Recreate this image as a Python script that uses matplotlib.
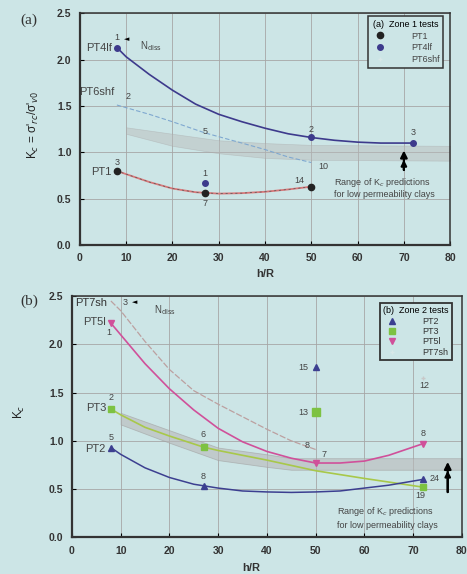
import matplotlib
matplotlib.use("Agg")
import matplotlib.pyplot as plt
from matplotlib.lines import Line2D

plt.rcParams['font.family'] = ['Liberation Sans', 'DejaVu Sans']

BG = '#cce5e6'

# ---------------- panel (a): zone 1 tests ----------------
pt4lf_h = [8, 50, 72]
pt4lf_k = [2.13, 1.16, 1.10]
pt4lf_curve_h = [8, 10, 15, 20, 25, 30, 35, 40, 45, 50, 55, 60, 65, 72]
pt4lf_curve_k = [2.13, 2.03, 1.84, 1.67, 1.52, 1.41, 1.33, 1.26, 1.20, 1.16, 1.13, 1.11, 1.10, 1.10]
pt4lf_extra_h = [27]
pt4lf_extra_k = [0.67]

pt1_h = [8, 27, 50]
pt1_k = [0.80, 0.56, 0.63]
pt1_curve_h = [8, 10, 15, 20, 25, 30, 35, 40, 45, 50]
pt1_curve_k = [0.80, 0.765, 0.68, 0.61, 0.57, 0.555, 0.56, 0.575, 0.60, 0.63]

pt6_curve_h = [8, 15, 20, 27, 35, 40, 45, 50]
pt6_curve_k = [1.51, 1.41, 1.33, 1.21, 1.10, 1.03, 0.95, 0.89]

band_a_h = [10, 20, 30, 40, 50, 80]
band_a_hi = [1.27, 1.20, 1.13, 1.10, 1.08, 1.07]
band_a_lo = [1.20, 1.07, 0.99, 0.94, 0.92, 0.91]

# ---------------- panel (b): zone 2 tests ----------------
pt2_h = [8, 27, 72]
pt2_k = [0.93, 0.53, 0.60]
pt2_curve_h = [8, 10, 15, 20, 25, 30, 35, 40, 45, 50, 55, 60, 65, 72]
pt2_curve_k = [0.93, 0.86, 0.72, 0.62, 0.55, 0.51, 0.48, 0.47, 0.465, 0.47, 0.48, 0.51, 0.54, 0.60]
pt2_extra_h = [50]
pt2_extra_k = [1.77]

pt3_h = [8, 27, 72]
pt3_k = [1.33, 0.935, 0.52]
pt3_curve_h = [8, 10, 15, 20, 27, 30, 40, 50, 60, 72]
pt3_curve_k = [1.33, 1.27, 1.14, 1.05, 0.935, 0.90, 0.80, 0.69, 0.61, 0.52]
pt3_extra_h = [50]
pt3_extra_k = [1.30]

pt5_h = [8, 50, 72]
pt5_k = [2.22, 0.77, 0.97]
pt5_curve_h = [8, 10, 15, 20, 25, 30, 35, 40, 45, 50, 55, 60, 65, 72]
pt5_curve_k = [2.22, 2.10, 1.80, 1.54, 1.32, 1.13, 0.99, 0.89, 0.82, 0.77, 0.77, 0.79, 0.85, 0.97]

pt7_curve_h = [8, 10, 15, 20, 25, 30, 35, 40, 45, 50]
pt7_curve_k = [2.45, 2.35, 2.03, 1.74, 1.52, 1.38, 1.25, 1.12, 1.00, 0.91]
pt7_extra_h = [72]
pt7_extra_k = [1.65]

band_b_h = [10, 20, 30, 40, 45, 80]
band_b_hi = [1.29, 1.11, 0.93, 0.86, 0.82, 0.82]
band_b_lo = [1.17, 0.98, 0.80, 0.73, 0.70, 0.70]

C_PT4 = '#3d3a8c'
C_PT1 = '#d9787a'
C_PT6 = '#7fa8d0'
C_PT2 = '#3c3f90'
C_PT3 = '#7dc242'
C_PT3L = '#a8c84a'
C_PT5 = '#d0509a'
C_PT7 = '#bca0a0'
BAND = '#b9b9b9'


def style_axes(ax, ylabel, ylabel_x, xlabel_x):
    ax.set_facecolor(BG)
    ax.set_xlim(0, 80)
    ax.set_ylim(0, 2.5)
    ax.set_xticks(range(0, 81, 10))
    ax.set_yticks([0, 0.5, 1.0, 1.5, 2.0, 2.5])
    ax.set_yticklabels(['0.0', '0.5', '1.0', '1.5', '2.0', '2.5'])
    ax.grid(True, color='#a6a6a6', lw=0.6)
    ax.set_axisbelow(True)
    for s in ['top', 'right']:
        ax.spines[s].set_linewidth(1.1)
        ax.spines[s].set_color('#333333')
    for s in ['left', 'bottom']:
        ax.spines[s].set_linewidth(1.6)
        ax.spines[s].set_color('#333333')
    ax.tick_params(direction='in', length=3, width=0.8, labelsize=7.5, pad=6)
    for t in ax.get_xticklabels() + ax.get_yticklabels():
        t.set_fontweight('bold')
        t.set_color('#333333')
    ax.set_xlabel('h/R', fontsize=8, fontweight='bold', color='#333333')
    ax.xaxis.set_label_coords(xlabel_x, -0.105)
    ax.set_ylabel(ylabel, fontsize=8.5, color='#222222')
    ax.yaxis.set_label_coords(ylabel_x, 0.52)


def range_arrow(ax, x, y0, y1, ymid):
    ax.annotate('', xy=(x, y1), xytext=(x, y0),
                arrowprops=dict(arrowstyle='-|>', color='black', lw=1.6, mutation_scale=10))
    ax.annotate('', xy=(x, ymid), xytext=(x, y0),
                arrowprops=dict(arrowstyle='-|>', color='black', lw=1.6, mutation_scale=8))


fig = plt.figure(figsize=(4.67, 5.74), dpi=100, facecolor=BG)

# ================= (a) =================
ax = fig.add_axes([0.171, 0.573, 0.793, 0.404])
ax.fill_between(band_a_h, band_a_lo, band_a_hi, color=BAND, alpha=0.45, lw=0.5, edgecolor='#a8a8a8')
ax.plot(pt6_curve_h, pt6_curve_k, color=C_PT6, lw=0.8, ls=(0, (4, 2)))
ax.plot(pt4lf_curve_h, pt4lf_curve_k, color=C_PT4, lw=1.2)
ax.plot(pt1_curve_h, pt1_curve_k, color=C_PT1, lw=1.3)
ax.plot(pt1_curve_h, pt1_curve_k, color='#555555', lw=0.5, ls=(0, (3, 4)))
ax.plot(pt4lf_h, pt4lf_k, 'o', color=C_PT4, ms=4)
ax.plot(pt4lf_extra_h, pt4lf_extra_k, 'o', color=C_PT4, ms=4)
ax.plot(pt1_h, pt1_k, 'o', color='#222222', ms=4.5)

fs = 6.5
tc = '#444444'
ax.text(8, 2.19, '1', fontsize=fs, color=tc, ha='center', va='bottom')
ax.text(9.6, 2.22, '◄', fontsize=5, color='black', ha='left', va='center', family=['DejaVu Sans'])
ax.text(13.0, 2.15, 'N$_{\\rm diss}$', fontsize=7, color=tc, ha='left', va='center')
ax.text(50, 1.20, '2', fontsize=fs, color=tc, ha='center', va='bottom')
ax.text(72, 1.16, '3', fontsize=fs, color=tc, ha='center', va='bottom')
ax.text(27, 0.72, '1', fontsize=fs, color=tc, ha='center', va='bottom')
ax.text(8, 0.84, '3', fontsize=fs, color=tc, ha='center', va='bottom')
ax.text(27, 0.50, '7', fontsize=fs, color=tc, ha='center', va='top')
ax.text(48.5, 0.65, '14', fontsize=fs, color=tc, ha='right', va='bottom')
ax.text(10.5, 1.55, '2', fontsize=fs, color=tc, ha='center', va='bottom')
ax.text(27, 1.22, '5', fontsize=fs, color=tc, ha='center', va='center')
ax.text(52.5, 0.85, '10', fontsize=fs, color=tc, ha='center', va='center')
ax.text(7, 2.12, 'PT4lf', fontsize=8, color=tc, ha='right', va='center')
ax.text(7.5, 1.65, 'PT6shf', fontsize=8, color=tc, ha='right', va='center')
ax.text(6.8, 0.79, 'PT1', fontsize=8, color=tc, ha='right', va='center')
range_arrow(ax, 70, 0.78, 1.05, 0.95)
ax.text(54.8, 0.68, 'Range of K$_c$ predictions', fontsize=6.5, color=tc, ha='left', va='center')
ax.text(54.8, 0.55, 'for low permeability clays', fontsize=6.5, color=tc, ha='left', va='center')

handles_a = [Line2D([], [], ls='none', marker='o', color='#222222', ms=4.5),
             Line2D([], [], ls='none', marker='o', color=C_PT4, ms=4),
             Line2D([], [], ls='none', marker='+', color='#d8e8e8', ms=3)]
leg = ax.legend(handles_a, ['PT1', 'PT4lf', 'PT6shf'], title='(a)  Zone 1 tests',
                loc='upper right', bbox_to_anchor=(0.981, 0.987), borderaxespad=0,
                fontsize=6.5, title_fontsize=6.5, frameon=True, fancybox=False,
                edgecolor='#333333', facecolor=BG, framealpha=1,
                handletextpad=2.4, labelspacing=0.3, borderpad=0.4)
leg.get_frame().set_linewidth(1.1)
for t in leg.get_texts():
    t.set_color(tc)
style_axes(ax, "K$_c$ = σ'$_{rc}$/σ'$_{v0}$", -0.105, 0.50)

# ================= (b) =================
bx = fig.add_axes([0.154, 0.064, 0.835, 0.420])
bx.fill_between(band_b_h, band_b_lo, band_b_hi, color=BAND, alpha=0.6, lw=0.6, edgecolor='#a0a0a0')
bx.plot(pt7_curve_h, pt7_curve_k, color=C_PT7, lw=0.9, ls=(0, (5, 1.5)))
bx.plot(pt5_curve_h, pt5_curve_k, color=C_PT5, lw=1.2)
bx.plot(pt3_curve_h, pt3_curve_k, color=C_PT3L, lw=1.2)
bx.plot(pt2_curve_h, pt2_curve_k, color=C_PT2, lw=1.1)
bx.plot(pt2_h, pt2_k, '^', color=C_PT2, ms=4.5)
bx.plot(pt2_extra_h, pt2_extra_k, '^', color=C_PT2, ms=4.5)
bx.plot(pt3_h, pt3_k, 's', color=C_PT3, ms=5)
bx.plot(pt3_extra_h, pt3_extra_k, 's', color=C_PT3, ms=5.5)
bx.plot(pt5_h, pt5_k, 'v', color=C_PT5, ms=5)
bx.plot(pt7_extra_h, pt7_extra_k, '+', color='#c8c8c8', ms=3)

bx.text(11.0, 2.43, '3', fontsize=fs, color=tc, ha='center', va='center')
bx.text(12.3, 2.44, '◄', fontsize=5, color='black', ha='left', va='center', family=['DejaVu Sans'])
bx.text(16.8, 2.36, 'N$_{\\rm diss}$', fontsize=7, color=tc, ha='left', va='center')
bx.text(7.5, 2.12, '1', fontsize=fs, color=tc, ha='center', va='center')
bx.text(8, 1.40, '2', fontsize=fs, color=tc, ha='center', va='bottom')
bx.text(8, 0.99, '5', fontsize=fs, color=tc, ha='center', va='bottom')
bx.text(27, 1.02, '6', fontsize=fs, color=tc, ha='center', va='bottom')
bx.text(27, 0.58, '8', fontsize=fs, color=tc, ha='center', va='bottom')
bx.text(48.5, 1.76, '15', fontsize=fs, color=tc, ha='right', va='center')
bx.text(48.5, 1.29, '13', fontsize=fs, color=tc, ha='right', va='center')
bx.text(72.2, 1.57, '12', fontsize=fs, color=tc, ha='center', va='center')
bx.text(48.2, 0.95, '8', fontsize=fs, color=tc, ha='center', va='center')
bx.text(51.8, 0.86, '7', fontsize=fs, color=tc, ha='center', va='center')
bx.text(72, 1.03, '8', fontsize=fs, color=tc, ha='center', va='bottom')
bx.text(73.3, 0.61, '24', fontsize=fs, color=tc, ha='left', va='center')
bx.text(71.5, 0.43, '19', fontsize=fs, color=tc, ha='center', va='center')
bx.text(7.3, 2.43, 'PT7sh', fontsize=8, color='#333333', ha='right', va='center')
bx.text(7.0, 2.23, 'PT5l', fontsize=8, color=tc, ha='right', va='center')
bx.text(7.0, 1.34, 'PT3', fontsize=8, color=tc, ha='right', va='center')
bx.text(6.8, 0.92, 'PT2', fontsize=8, color=tc, ha='right', va='center')
range_arrow(bx, 77.1, 0.44, 0.81, 0.72)
bx.text(54.4, 0.27, 'Range of K$_c$ predictions', fontsize=6.5, color=tc, ha='left', va='center')
bx.text(54.4, 0.125, 'for low permeability clays', fontsize=6.5, color=tc, ha='left', va='center')

handles_b = [Line2D([], [], ls='none', marker='^', color=C_PT2, ms=4),
             Line2D([], [], ls='none', marker='s', color=C_PT3, ms=4.5),
             Line2D([], [], ls='none', marker='v', color=C_PT5, ms=4),
             Line2D([], [], ls='none', marker='+', color='#d8e8e8', ms=3)]
leg = bx.legend(handles_b, ['PT2', 'PT3', 'PT5l', 'PT7sh'], title='(b)  Zone 2 tests',
                loc='upper right', bbox_to_anchor=(0.974, 0.971), borderaxespad=0,
                fontsize=6.5, title_fontsize=6.5, frameon=True, fancybox=False,
                edgecolor='#333333', facecolor=BG, framealpha=1,
                handletextpad=2.4, labelspacing=0.15, borderpad=0.35)
leg.get_frame().set_linewidth(1.3)
for t in leg.get_texts():
    t.set_color('#333333')
style_axes(bx, 'K$_c$', -0.115, 0.46)

fig.text(0.043, 0.965, '(a)', fontsize=11, family=['Liberation Serif'], color='#333333', va='center')
fig.text(0.043, 0.476, '(b)', fontsize=11, family=['Liberation Serif'], color='#333333', va='center')

fig.savefig('out.png', dpi=100, facecolor=BG)
